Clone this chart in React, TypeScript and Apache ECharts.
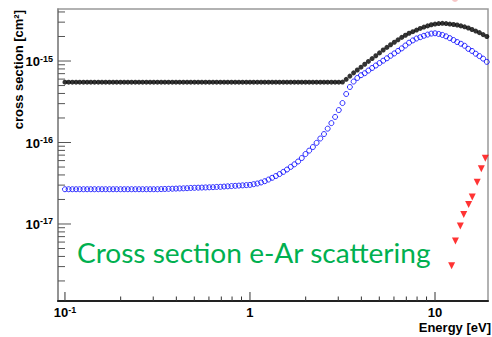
import React, { useEffect, useRef } from "react";
import * as echarts from "echarts";

// Energy grid [eV]
const energies = [
  0.1, 0.1047, 0.1096, 0.1148, 0.1202, 0.1259, 0.1318, 0.138, 0.1445, 0.1514,
  0.1585, 0.166, 0.1738, 0.182, 0.1905, 0.1995, 0.2089, 0.2188, 0.2291, 0.2399,
  0.2512, 0.263, 0.2754, 0.2884, 0.302, 0.3162, 0.3311, 0.3467, 0.3631, 0.3802,
  0.3981, 0.4169, 0.4365, 0.4571, 0.4786, 0.5012, 0.5248, 0.5495, 0.5754, 0.6026,
  0.631, 0.6607, 0.6918, 0.7244, 0.7586, 0.7943, 0.8318, 0.871, 0.912, 0.955,
  1.0, 1.047, 1.096, 1.148, 1.202, 1.259, 1.318, 1.38, 1.445, 1.514,
  1.585, 1.66, 1.738, 1.82, 1.905, 1.995, 2.089, 2.188, 2.291, 2.399,
  2.512, 2.63, 2.754, 2.884, 3.02, 3.162, 3.311, 3.467, 3.631, 3.802,
  3.981, 4.169, 4.365, 4.571, 4.786, 5.012, 5.248, 5.495, 5.754, 6.026,
  6.31, 6.607, 6.918, 7.244, 7.586, 7.943, 8.318, 8.71, 9.12, 9.55,
  10.0, 10.47, 10.96, 11.48, 12.02, 12.59, 13.18, 13.8, 14.45, 15.14,
  15.85, 16.6, 17.38, 18.2, 19.05,
];

// cross sections in units of 1e-16 cm^2
const UNIT = 1e-16;
const totalXs = [
  5.5, 5.5, 5.5, 5.5, 5.5, 5.5, 5.5, 5.5, 5.5, 5.5,
  5.5, 5.5, 5.5, 5.5, 5.5, 5.5, 5.5, 5.5, 5.5, 5.5,
  5.5, 5.5, 5.5, 5.5, 5.5, 5.5, 5.5, 5.5, 5.5, 5.5,
  5.5, 5.5, 5.5, 5.5, 5.5, 5.5, 5.5, 5.5, 5.5, 5.5,
  5.5, 5.5, 5.5, 5.5, 5.5, 5.5, 5.5, 5.5, 5.5, 5.5,
  5.5, 5.5, 5.5, 5.5, 5.5, 5.5, 5.5, 5.5, 5.5, 5.5,
  5.5, 5.5, 5.5, 5.5, 5.5, 5.5, 5.5, 5.5, 5.5, 5.5,
  5.5, 5.5, 5.5, 5.5, 5.5,
  5.52, 5.96, 6.53, 7.16, 7.76, 8.41, 9.12, 9.89, 10.72, 11.61,
  12.59, 13.65, 14.7, 15.85, 17.0, 18.2, 19.5, 20.7, 21.9, 22.9,
  24.0, 25.1, 26.1, 27.0, 27.9, 28.4, 28.8, 29.0, 28.8, 28.4,
  28.1, 27.7, 27.0, 26.3, 25.4, 24.4, 23.3, 22.3, 21.1, 20.0,
];
const elasticXs = [
  0.267, 0.267, 0.267, 0.267, 0.267, 0.267, 0.267, 0.267, 0.267, 0.267,
  0.267, 0.267, 0.267, 0.267, 0.267, 0.267, 0.267, 0.267, 0.267, 0.267,
  0.267, 0.267, 0.267, 0.267, 0.267, 0.267,
  0.268, 0.269, 0.27, 0.271, 0.272, 0.273, 0.274, 0.275, 0.277, 0.278,
  0.279, 0.28, 0.281, 0.282, 0.283, 0.285, 0.286, 0.288, 0.29, 0.292,
  0.294, 0.296, 0.298, 0.3, 0.302,
  0.308, 0.314, 0.323, 0.335, 0.351, 0.369, 0.388, 0.41, 0.436, 0.466,
  0.502, 0.54, 0.585, 0.645, 0.722, 0.795, 0.88, 0.99, 1.12, 1.27,
  1.48, 1.73, 2.06, 2.5, 3.05, 3.94, 4.8, 5.6, 6.2, 6.7,
  7.08, 7.64, 8.22, 8.81, 9.44, 10.1, 10.8, 11.6, 12.4, 13.3,
  14.3, 15.5, 16.8, 17.9, 18.9, 19.6, 20.4, 21.1, 21.7, 21.9,
  21.5, 20.9, 20.1, 19.1, 18.1, 17.1, 16.3, 15.4, 14.1, 13.3,
  12.3, 11.5, 10.7, 9.77,
];
const excitationEnergies = [12.3, 12.9, 13.7, 14.3, 15.2, 15.9, 16.9, 17.8, 18.7];
const excitationXs = [0.0308, 0.0618, 0.0945, 0.131, 0.173, 0.214, 0.325, 0.477, 0.64];

// axis ticks
const xMajorTicks = [0.1, 1, 10];
const xMinorTicks = [0.2, 0.3, 0.4, 0.5, 0.6, 0.7, 0.8, 0.9, 2, 3, 4, 5, 6, 7, 8, 9];
const yMajorTicks = [1e-17, 1e-16, 1e-15];
const yMinorTicks = [
  2e-18, 3e-18, 4e-18, 5e-18, 6e-18, 7e-18, 8e-18, 9e-18,
  2e-17, 3e-17, 4e-17, 5e-17, 6e-17, 7e-17, 8e-17, 9e-17,
  2e-16, 3e-16, 4e-16, 5e-16, 6e-16, 7e-16, 8e-16, 9e-16,
  2e-15, 3e-15, 4e-15,
];

const X_MIN = 0.0917;
const X_MAX = 19.34;
const Y_MIN = 1.135e-18;
const Y_MAX = 4.35e-15;

const FONT = "Liberation Sans";

const GRID = { left: 58, top: 9, width: 430, height: 292 };

function decadeLabel(v: number) {
  const e = Math.round(Math.log10(v));
  if (Math.abs(Math.log10(v) - e) > 1e-6) return "";
  if (e === 0) return "{b|1}";
  if (e === 1) return "{b|10}";
  return "{b|10}{s|" + e + "}";
}

const richLabels = {
  b: { fontSize: 13, fontWeight: "bold", fontFamily: FONT, color: "#000", lineHeight: 14, verticalAlign: "bottom" },
  s: { fontSize: 9, fontWeight: "bold", fontFamily: FONT, color: "#000", lineHeight: 9, verticalAlign: "top" },
};

export default function App() {
  const ref = useRef<HTMLDivElement>(null);
  useEffect(() => {
    if (!ref.current) return;
    const chart = echarts.init(ref.current, undefined, { renderer: "svg" });
    const option: any = {
      animation: false,
      backgroundColor: "#ffffff",
      grid: { ...GRID, show: true, borderColor: "#999999", borderWidth: 1.5, backgroundColor: "transparent" },
      xAxis: {
        type: "log",
        logBase: 10,
        min: X_MIN,
        max: X_MAX,
        axisLine: { show: true, lineStyle: { color: "#222", width: 2 } },
        axisTick: { show: false },
        splitLine: { show: false },
        axisLabel: {
          formatter: (v: number) => decadeLabel(v),
          margin: 4,
          rich: richLabels,
          showMinLabel: false,
          showMaxLabel: false,
        },
      },
      yAxis: {
        type: "log",
        logBase: 10,
        min: Y_MIN,
        max: Y_MAX,
        axisLine: { show: true, lineStyle: { color: "#888", width: 1.5 } },
        axisTick: { show: false },
        splitLine: { show: false },
        axisLabel: {
          formatter: (v: number) => decadeLabel(v),
          margin: 5,
          rich: richLabels,
          showMinLabel: false,
          showMaxLabel: false,
        },
      },
      series: [
        {
          type: "scatter",
          name: "total",
          symbol: "circle",
          symbolSize: 5,
          itemStyle: { color: "#000000" },
          data: energies.map((e, i) => [e, totalXs[i] * UNIT]),
          z: 2,
        },
        {
          type: "scatter",
          name: "elastic",
          symbol: "circle",
          symbolSize: 5,
          itemStyle: { color: "rgba(0,0,0,0)", borderColor: "#0000ff", borderWidth: 1 },
          data: energies.map((e, i) => [e, elasticXs[i] * UNIT]),
          z: 3,
        },
        {
          type: "scatter",
          name: "excitation",
          symbol: "triangle",
          symbolRotate: 180,
          symbolSize: 7,
          itemStyle: { color: "#ff0000" },
          data: excitationEnergies.map((e, i) => [e, excitationXs[i] * UNIT]),
          z: 3,
        },
      ],
    };
    chart.setOption(option);

    const g: any[] = [];
    const bottom = GRID.top + GRID.height;
    const left = GRID.left;
    const tick = (x1: number, y1: number, x2: number, y2: number, color: string) =>
      g.push({ type: "line", shape: { x1, y1, x2, y2 }, style: { stroke: color, lineWidth: 1 }, z: 10 });
    xMajorTicks.forEach((v) => {
      const px = chart.convertToPixel({ xAxisIndex: 0 }, v) as number;
      tick(px, bottom, px, bottom - 9, "#333");
    });
    xMinorTicks.forEach((v) => {
      const px = chart.convertToPixel({ xAxisIndex: 0 }, v) as number;
      tick(px, bottom, px, bottom - 4.5, "#333");
    });
    yMajorTicks.forEach((v) => {
      const py = chart.convertToPixel({ yAxisIndex: 0 }, v) as number;
      tick(left, py, left + 13, py, "#555");
    });
    yMinorTicks.forEach((v) => {
      const py = chart.convertToPixel({ yAxisIndex: 0 }, v) as number;
      tick(left, py, left + 7, py, "#555");
    });
    g.push({
      type: "text",
      x: 18,
      y: 10,
      rotation: Math.PI / 2,
      style: { text: "cross section [cm²]", fontFamily: FONT, fontWeight: "bold", fontSize: 13, fill: "#000", align: "right", verticalAlign: "middle" },
      z: 10,
    });
    g.push({
      type: "text",
      x: 491,
      y: 327,
      style: { text: "Energy [eV]", fontFamily: FONT, fontWeight: "bold", fontSize: 13, fill: "#000", align: "right", verticalAlign: "middle" },
      z: 10,
    });
    g.push({
      type: "text",
      x: 77,
      y: 253,
      scaleX: 1.04,
      style: { text: "Cross section e-Ar scattering", fontFamily: "Lato", fontSize: 27, fill: "#00b050", align: "left", verticalAlign: "middle" },
      z: 10,
    });
    g.push({ type: "circle", shape: { cx: 455, cy: -1, r: 3 }, style: { fill: "#f6c6c6" }, z: 10 });
    chart.setOption({ graphic: g });

    return () => chart.dispose();
  }, []);
  return (
    <div
      ref={ref}
      style={{ position: "fixed", left: 0, top: 0, width: 492, height: 337 }}
    />
  );
}
